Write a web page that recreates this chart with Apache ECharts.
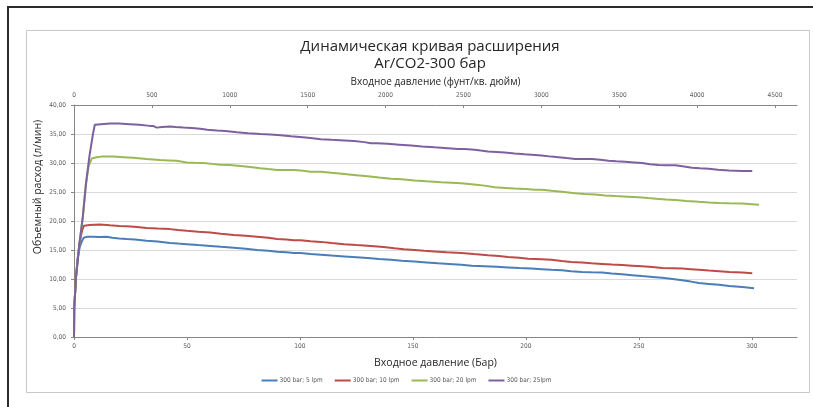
<!DOCTYPE html>
<html>
<head>
<meta charset="utf-8">
<script src="https://cdn.jsdelivr.net/npm/echarts@6/dist/echarts.min.js"></script>
<style>
html,body{margin:0;padding:0;background:#fff;}
#c{width:813px;height:407px;}
</style>
</head>
<body>
<div id="c"></div>
<script>
const titleLines = ['Динамическая кривая расширения', 'Ar/CO2-300 бар'];
const barAxisName = 'Входное давление (Бар)';
const psiAxisName = 'Входное давление (фунт/кв. дюйм)';
const yAxisName = 'Объемный расход (л/мин)';
const seriesNames = ['300 bar; 5 lpm', '300 bar; 10 lpm', '300 bar; 20 lpm', '300 bar; 25lpm'];
const barTicks = [0, 50, 100, 150, 200, 250, 300];
const psiTicks = [0, 500, 1000, 1500, 2000, 2500, 3000, 3500, 4000, 4500];
const yTicks = [0, 5, 10, 15, 20, 25, 30, 35, 40];
const barMax = 320;
const psiPerBar = 14.5038;

const lpm5 = [[0,0],[0.1,5],[0.9,10.4],[1.6,13.6],[2.6,15.6],[3.6,16.6],[4.3,17.1],[6,17.3],[8.4,17.3],[11,17.25],[14.4,17.3],[17,17.1],[20,17.0],[23.3,16.9],[27,16.8],[32.1,16.6],[37,16.45],[42.5,16.2],[46,16.1],[49.9,16.0],[55,15.85],[60.3,15.7],[65,15.55],[70.7,15.4],[76,15.2],[81,15.0],[86,14.85],[89.9,14.7],[94,14.6],[97.3,14.5],[100.3,14.5],[104.7,14.3],[109.2,14.2],[114,14.05],[119.6,13.9],[125,13.75],[130,13.6],[135,13.45],[140.3,13.3],[145,13.15],[150.7,13.0],[156,12.85],[161.1,12.7],[166,12.6],[171.4,12.45],[176,12.3],[181.8,12.2],[187,12.1],[192.1,12.0],[197,11.9],[202.4,11.8],[207,11.7],[211.3,11.6],[215.9,11.5],[220,11.35],[224.8,11.2],[229,11.15],[233.7,11.1],[238,10.95],[242.6,10.8],[247,10.65],[251.4,10.5],[256,10.35],[260.3,10.2],[265,10.0],[269.2,9.8],[273,9.55],[276.6,9.3],[281,9.15],[285.5,9.0],[290,8.8],[295.8,8.6],[301,8.4]];
const lpm10 = [[0,0],[0.1,5],[0.9,10.4],[2.4,16.1],[3.6,18.4],[4.4,19.2],[7,19.3],[11.4,19.4],[15.9,19.25],[20,19.15],[23.3,19.1],[28,18.95],[32.1,18.8],[37,18.7],[42.5,18.6],[46,18.45],[49.9,18.3],[55,18.15],[60.3,18.0],[65,17.8],[70.7,17.6],[76,17.45],[81,17.3],[86,17.1],[89.9,16.9],[94,16.8],[97.3,16.7],[100.3,16.7],[104.7,16.5],[109.2,16.4],[114,16.2],[119.6,16.0],[125,15.85],[131.4,15.7],[137,15.5],[141.8,15.3],[146,15.15],[150.7,15.0],[155,14.85],[159.6,14.75],[165,14.6],[171.4,14.5],[177,14.3],[183.2,14.1],[188,13.95],[192.1,13.8],[197,13.65],[201,13.5],[207,13.4],[211.3,13.3],[215.9,13.1],[220,12.95],[224.8,12.85],[229,12.7],[233.7,12.6],[238,12.5],[242.6,12.4],[247,12.3],[251.4,12.2],[256,12.05],[260.3,11.9],[265,11.85],[269.2,11.8],[273,11.7],[276.6,11.6],[281,11.45],[285.5,11.35],[290,11.2],[295.8,11.1],[300.2,11.0]];
const lpm20 = [[0,0],[0.1,5],[0.9,10.4],[2.4,16.1],[3.9,20.7],[5.3,26.3],[6.5,29.5],[7.9,30.8],[10,31.0],[12.1,31.1],[17.3,31.1],[22,31.0],[26.2,30.9],[32,30.7],[38.1,30.5],[42,30.45],[45.5,30.4],[49.9,30.1],[53,30.05],[57.3,30.0],[61,29.85],[64.7,29.7],[69,29.65],[73.6,29.5],[78,29.3],[82.5,29.1],[86,28.95],[89.9,28.8],[97.3,28.8],[100.3,28.7],[104.7,28.5],[109.2,28.5],[114,28.3],[119.6,28.1],[125,27.9],[130,27.7],[135,27.5],[140.3,27.3],[145,27.2],[150.7,27.0],[156,26.85],[162.5,26.7],[167,26.6],[171.4,26.5],[177,26.3],[181.8,26.1],[186.2,25.8],[191,25.7],[195.1,25.6],[200,25.5],[204,25.4],[207,25.4],[211.3,25.2],[216,25.05],[221.8,24.8],[226,24.65],[230.7,24.55],[235,24.4],[239.6,24.3],[245,24.2],[250,24.1],[254,23.95],[258.8,23.8],[262,23.7],[266.2,23.6],[271,23.45],[276.6,23.3],[281,23.2],[285.5,23.1],[290,23.05],[295.8,23.0],[300,22.9],[303.2,22.8]];
const lpm25 = [[0,0],[0.1,5],[0.9,10.4],[2.4,16.1],[3.9,20.7],[5.3,26.5],[6.8,31.1],[8.4,35.0],[9.2,36.6],[12,36.7],[15.9,36.8],[20,36.8],[24.7,36.7],[29,36.6],[33.6,36.4],[35,36.4],[36.6,36.1],[39,36.2],[42.5,36.3],[45,36.2],[48.4,36.1],[52,36.05],[55.9,35.9],[59,35.75],[63.3,35.6],[67,35.5],[72.1,35.3],[77,35.15],[82.5,35.0],[87,34.9],[91.4,34.8],[96,34.6],[100,34.5],[104.7,34.3],[109.2,34.1],[114,34.0],[119.6,33.9],[124,33.8],[128.5,33.6],[131.4,33.4],[134,33.4],[138.8,33.3],[144,33.15],[149.2,33.0],[154,32.85],[159.6,32.7],[164,32.6],[169.9,32.4],[173,32.4],[177.3,32.3],[180,32.15],[183.2,32.0],[187,31.9],[190.6,31.8],[195,31.65],[199.5,31.5],[204,31.4],[207,31.3],[211.3,31.1],[214.4,31.0],[218,30.85],[221.8,30.7],[225,30.7],[229.2,30.7],[233,30.55],[236.6,30.4],[240,30.3],[244,30.2],[248,30.1],[251.4,30.0],[255,29.8],[258.8,29.65],[262,29.6],[266.2,29.6],[270,29.4],[273.6,29.2],[277,29.1],[281,29.0],[285,28.85],[289.9,28.7],[295.8,28.6],[300.2,28.6]];
const colors = ['#4A7EBB', '#BE4B48', '#98B954', '#7D60A0'];
const seriesData = [lpm5, lpm10, lpm20, lpm25];

const labelFont = '"Liberation Sans Narrow","DejaVu Sans Condensed","Liberation Sans",sans-serif';
const textFont = '"Open Sans","Noto Sans",sans-serif';
const axisGray = '#868686';
const textGray = '#595959';
const darkText = '#262626';

const chart = echarts.init(document.getElementById('c'), null, {renderer: 'canvas'});
chart.setOption({
  animation: false,
  backgroundColor: '#fff',
  color: colors,
  title: {
    text: titleLines.join('\n'),
    left: 430, top: 38, padding: 0, textAlign: 'center',
    textStyle: {fontFamily: textFont, fontSize: 15, fontWeight: 'normal', color: darkText, lineHeight: 17}
  },
  legend: {
    bottom: 18, left: 'center',
    icon: 'rect', itemWidth: 16, itemHeight: 2, itemGap: 12,
    textStyle: {fontFamily: labelFont, fontSize: 6.5, color: textGray, padding: [0,0,0,-3]},
    data: seriesNames
  },
  grid: {left: 74, right: 16, top: 105, bottom: 70, containLabel: false},
  xAxis: [{
    type: 'value', position: 'bottom', min: 0, max: barMax,
    name: barAxisName, nameLocation: 'middle', nameGap: 21,
    nameTextStyle: {fontFamily: textFont, fontSize: 10.5, color: darkText},
    axisLine: {show: true, lineStyle: {color: axisGray}},
    axisTick: {show: true, length: 3, lineStyle: {color: axisGray}, customValues: barTicks},
    axisLabel: {fontFamily: labelFont, fontSize: 6.5, color: textGray, margin: 6, customValues: barTicks,
      formatter: v => String(v)},
    splitLine: {show: false}
  }, {
    type: 'value', position: 'top', min: 0, max: barMax * psiPerBar,
    name: psiAxisName, nameLocation: 'middle', nameGap: 18,
    nameTextStyle: {fontFamily: textFont, fontSize: 10, color: darkText},
    axisLine: {show: true, lineStyle: {color: axisGray}},
    axisTick: {show: true, inside: true, length: 3, lineStyle: {color: axisGray}, customValues: psiTicks},
    axisLabel: {fontFamily: labelFont, fontSize: 6.5, color: textGray, margin: 6, customValues: psiTicks,
      formatter: v => String(v)},
    splitLine: {show: false}
  }],
  yAxis: {
    type: 'value', min: 0, max: 40, interval: 5,
    axisLine: {show: true, lineStyle: {color: axisGray}},
    axisTick: {show: true, length: 3, lineStyle: {color: axisGray}},
    axisLabel: {fontFamily: labelFont, fontSize: 6.5, color: textGray, margin: 8,
      formatter: v => yTicks.includes(v) ? v.toFixed(2).replace('.', ',') : ''},
    splitLine: {show: true, lineStyle: {color: '#D9D9D9', width: 1}}
  },
  graphic: [
    {type: 'line', shape: {x1: 8, y1: 7, x2: 813, y2: 7}, style: {stroke: '#2b2b2b', lineWidth: 2}, silent: true},
    {type: 'line', shape: {x1: 8, y1: 6, x2: 8, y2: 407}, style: {stroke: '#2b2b2b', lineWidth: 2}, silent: true},
    {type: 'rect', shape: {x: 26.5, y: 30.5, width: 783, height: 362}, style: {fill: 'none', stroke: '#C8C8C8', lineWidth: 1}, silent: true, z: -1},
    {type: 'text', x: 38, y: 187, rotation: Math.PI / 2,
      style: {text: yAxisName, fontFamily: textFont, fontSize: 10.5, fill: darkText, align: 'center', verticalAlign: 'middle'}, silent: true}
  ],
  series: seriesNames.map((n, i) => ({
    name: n, type: 'line', xAxisIndex: 0, symbol: 'none', showSymbol: false,
    data: seriesData[i], lineStyle: {width: 2, color: colors[i]}, itemStyle: {color: colors[i]}
  }))
});
</script>
</body>
</html>
